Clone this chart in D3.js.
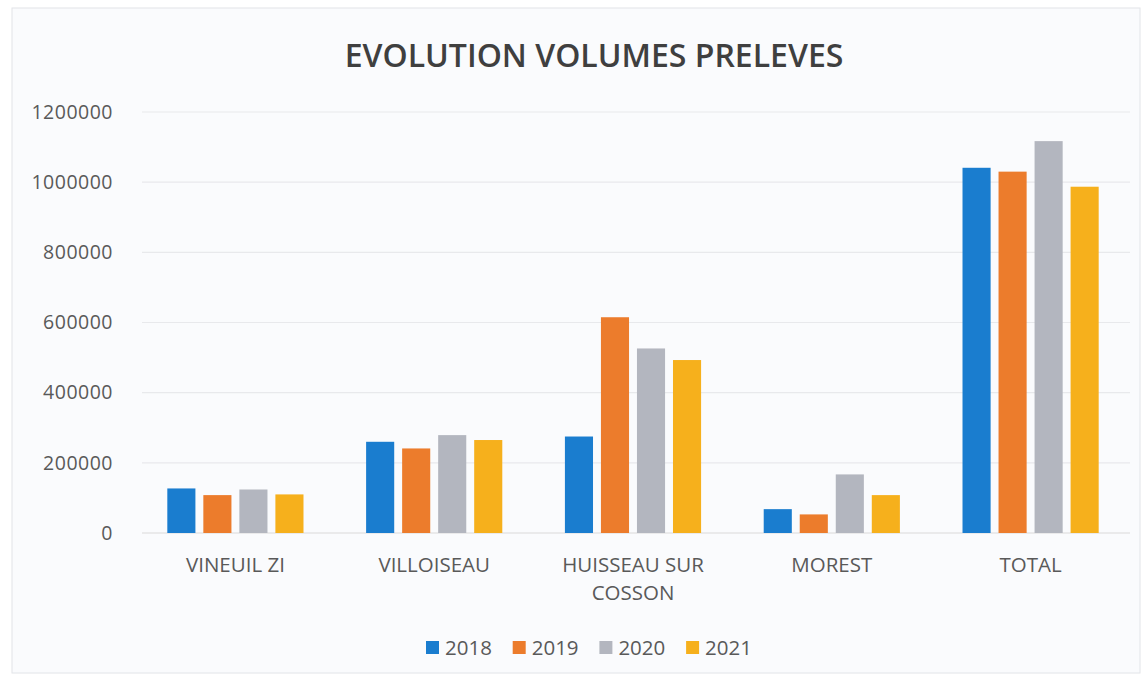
<!DOCTYPE html>
<html>
<head>
<meta charset="utf-8">
<script src="https://cdn.jsdelivr.net/npm/d3@7"></script>
<style>
  body { margin: 0; background: #ffffff; }
  svg text { font-family: "Open Sans", "Noto Sans", sans-serif; }
</style>
</head>
<body>
<svg width="1148" height="679"></svg>
<script>
var categories = ["VINEUIL ZI", "VILLOISEAU", "HUISSEAU SUR COSSON", "MOREST", "TOTAL"];
var years = ["2018", "2019", "2020", "2021"];
var v2018 = [127000, 260000, 275000, 68000, 1041000];
var v2019 = [108000, 241000, 615000, 53000, 1030000];
var v2020 = [124000, 279000, 526000, 167000, 1117000];
var v2021 = [110000, 265000, 493000, 108000, 987000];
var yTicks = [0, 200000, 400000, 600000, 800000, 1000000, 1200000];

var series = {"2018": v2018, "2019": v2019, "2020": v2020, "2021": v2021};
var colors = ["#1a7dcf", "#ec7c2c", "#b3b6bf", "#f6b01c"];

var svg = d3.select("svg"),
    margin = {top: 112, right: 18, bottom: 146, left: 136},
    width = 1148 - margin.left - margin.right,
    height = 679 - margin.top - margin.bottom;

// chart area background and frame
svg.append("rect")
    .attr("x", 12).attr("y", 8).attr("width", 1128).attr("height", 665)
    .attr("fill", "#fafbfd").attr("stroke", "#e2e4e8");

svg.append("text")
    .attr("x", 594).attr("y", 67)
    .attr("text-anchor", "middle")
    .attr("font-size", 32).attr("font-weight", 600)
    .attr("fill", "#3f3f3f")
    .text("EVOLUTION VOLUMES PRELEVES");

var g = svg.append("g").attr("transform", "translate(" + margin.left + "," + margin.top + ")");

var x0 = d3.scaleBand().domain(categories).range([0, width])
    .paddingInner(0.315).paddingOuter(0.1575);
var x1 = d3.scaleBand().domain(years).range([0, x0.bandwidth()]).paddingInner(0.22);
var y = d3.scaleLinear().domain([0, 1200000]).range([height, 0]);
var z = d3.scaleOrdinal().domain(years).range(colors);

// grid
g.append("g")
    .selectAll("line")
    .data(yTicks)
    .enter().append("line")
    .attr("x1", 6).attr("x2", width)
    .attr("y1", function(d) { return y(d); })
    .attr("y2", function(d) { return y(d); })
    .attr("stroke", function(d) { return d === 0 ? "#d9d9d9" : "#e8e9ec"; })
    .attr("stroke-width", 1.2);

// y labels
var yAxis = d3.axisLeft(y).tickValues(yTicks).tickSize(0).tickPadding(0)
    .tickFormat(function(d) { return String(d); });
g.append("g")
    .attr("transform", "translate(-23,0)")
    .call(yAxis)
    .call(function(s) { s.select(".domain").remove(); })
    .selectAll("text")
    .attr("font-size", 19.5)
    .attr("letter-spacing", 0.5)
    .attr("fill", "#595959");

// bars
g.append("g")
    .selectAll("g")
    .data(categories)
    .enter().append("g")
    .attr("transform", function(d) { return "translate(" + x0(d) + ",0)"; })
    .selectAll("rect")
    .data(function(d, i) { return years.map(function(k) { return {key: k, value: series[k][i]}; }); })
    .enter().append("rect")
    .attr("x", function(d) { return x1(d.key); })
    .attr("y", function(d) { return y(d.value); })
    .attr("width", x1.bandwidth())
    .attr("height", function(d) { return height - y(d.value); })
    .attr("fill", function(d) { return z(d.key); });

// x labels
var xAxis = d3.axisBottom(x0).tickSize(0).tickPadding(0);
var xg = g.append("g")
    .attr("transform", "translate(0," + (height + 39) + ")")
    .call(xAxis);
xg.select(".domain").remove();
xg.selectAll("text")
    .attr("font-size", 20.5)
    .attr("fill", "#595959")
    .attr("dy", 0)
    .each(function(d) {
        var t = d3.select(this);
        if (d === "HUISSEAU SUR COSSON") {
            t.text(null);
            t.append("tspan").attr("x", 0).attr("dy", 0).text("HUISSEAU SUR");
            t.append("tspan").attr("x", 0).attr("dy", 28).text("COSSON");
        }
    });

// legend
var legend = svg.append("g").attr("transform", "translate(426,641)");
var item = legend.selectAll("g")
    .data(years)
    .enter().append("g")
    .attr("transform", function(d, i) { return "translate(" + (i * 86.7) + ",0)"; });
item.append("rect")
    .attr("width", 13).attr("height", 13)
    .attr("fill", function(d) { return z(d); });
item.append("text")
    .attr("x", 19).attr("y", 14)
    .attr("font-size", 20.5)
    .attr("fill", "#595959")
    .text(function(d) { return d; });
</script>
</body>
</html>
